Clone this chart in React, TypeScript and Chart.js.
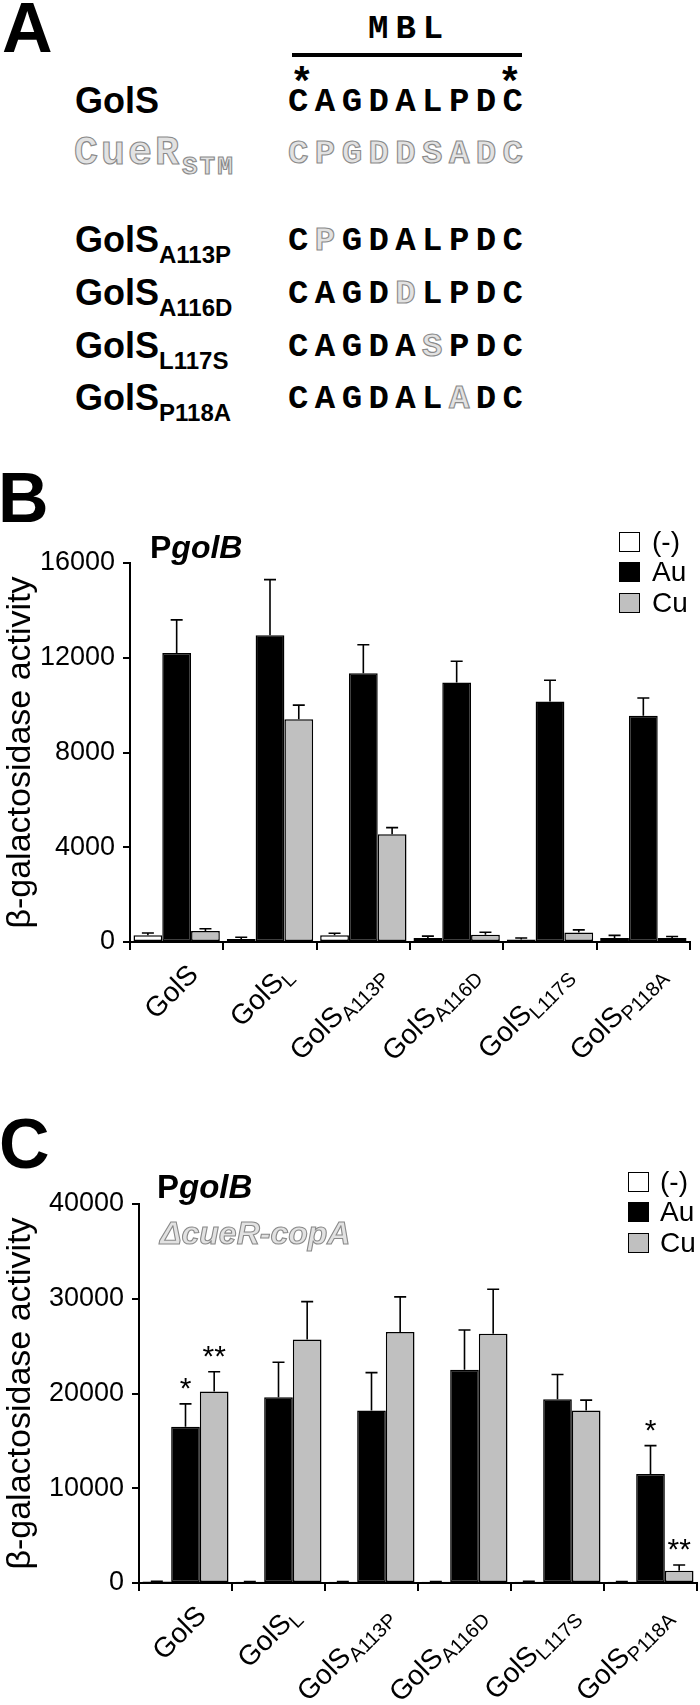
import React, { useEffect, useRef } from 'react';
import { Chart, registerables } from 'chart.js';

Chart.register(...registerables);

const SANS = "'Liberation Sans', Arial, Helvetica, sans-serif";
const MONO = "'Liberation Mono', 'Courier New', monospace";

// ---------- data ----------
const categoryMain = ['GolS', 'GolS', 'GolS', 'GolS', 'GolS', 'GolS'];
const categorySub = ['', 'L', 'A113P', 'A116D', 'L117S', 'P118A'];
const seriesNames = ['(-)', 'Au', 'Cu'];
const seriesColors = ['#ffffff', '#000000', '#c0c0c0'];

// Panel B (PgolB)
const bNone = [280, 130, 280, 170, 110, 170];
const bNoneErr = [100, 70, 90, 80, 60, 110];
const bAu = [12200, 12950, 11350, 10950, 10150, 9550];
const bAuErr = [1400, 2350, 1200, 900, 900, 750];
const bCu = [460, 9400, 4550, 310, 400, 170];
const bCuErr = [100, 600, 280, 100, 110, 60];
const bYMax = 16000;
const bYStep = 4000;

// Panel C (PgolB, ΔcueR-copA)
const cNone = [150, 120, 130, 120, 140, 120];
const cNoneErr = [40, 30, 30, 30, 40, 30];
const cAu = [16500, 19600, 18200, 22500, 19400, 11500];
const cAuErr = [2400, 3700, 4000, 4200, 2600, 3000];
const cCu = [20200, 25700, 26500, 26300, 18200, 1300];
const cCuErr = [2100, 4000, 3700, 4700, 1100, 600];
const cAuSig = ['*', '', '', '', '', '*'];
const cCuSig = ['**', '', '', '', '', '**'];
const cYMax = 40000;
const cYStep = 10000;

// Panel A alignments
const alignNames = [
  { main: 'GolS', sub: '' },
  { main: 'CueR', sub: 'STM' },
  { main: 'GolS', sub: 'A113P' },
  { main: 'GolS', sub: 'A116D' },
  { main: 'GolS', sub: 'L117S' },
  { main: 'GolS', sub: 'P118A' },
];
const alignSeqs = ['CAGDALPDC', 'CPGDDSADC', 'CPGDALPDC', 'CAGDDLPDC', 'CAGDASPDC', 'CAGDALADC'];
const alignMut = [-1, 99, 1, 4, 5, 6];

const yTitle = 'β-galactosidase activity';

// ---------- helpers ----------
const OUTLINE: React.CSSProperties = { color: '#e2e2e2', WebkitTextStroke: '1.1px #8a8a8a' } as any;

function Txt(props: any) {
  const { x, base, size, mono, weight = 700, italic, children, style } = props;
  const k = mono ? 0.7665 : 0.8465;
  return (
    <div
      style={{
        position: 'absolute',
        left: x,
        top: base - k * size,
        fontFamily: mono ? MONO : SANS,
        fontSize: size,
        lineHeight: 1,
        fontWeight: weight,
        fontStyle: italic ? 'italic' : 'normal',
        whiteSpace: 'nowrap',
        color: '#000',
        ...style,
      }}
    >
      {children}
    </div>
  );
}

function makeErrorPlugin() {
  return {
    id: 'errorBars',
    afterDatasetsDraw(chart: any) {
      const ctx = chart.ctx;
      const ys = chart.scales.y;
      chart.data.datasets.forEach((ds: any, i: number) => {
        const meta = chart.getDatasetMeta(i);
        meta.data.forEach((bar: any, j: number) => {
          const v = ds.data[j];
          const e = ds.errors ? ds.errors[j] : 0;
          const yTop = ys.getPixelForValue(v);
          const yE = ys.getPixelForValue(v + e);
          ctx.save();
          ctx.strokeStyle = '#000';
          ctx.lineWidth = 1.6;
          ctx.beginPath();
          ctx.moveTo(bar.x, yTop);
          ctx.lineTo(bar.x, yE);
          ctx.moveTo(bar.x - 6, yE);
          ctx.lineTo(bar.x + 6, yE);
          ctx.stroke();
          if (ds.sig && ds.sig[j]) {
            ctx.fillStyle = '#000';
            ctx.font = `30px ${SANS}`;
            ctx.textAlign = 'center';
            ctx.textBaseline = 'alphabetic';
            ctx.fillText(ds.sig[j], bar.x, yE - 6);
          }
          ctx.restore();
        });
      });
    },
  };
}

function makeXLabelPlugin(dx: number, dy: number) {
  return {
    id: 'xLabels',
    afterDraw(chart: any) {
      const ctx = chart.ctx;
      const xs = chart.scales.x;
      const bottom = chart.chartArea.bottom;
      categoryMain.forEach((main, i) => {
        const sub = categorySub[i];
        const cx = xs.getPixelForValue(i);
        ctx.save();
        ctx.translate(cx + dx, bottom + dy);
        ctx.rotate(-Math.PI / 4);
        ctx.fillStyle = '#000';
        ctx.textBaseline = 'alphabetic';
        ctx.textAlign = 'right';
        let ws = 0;
        if (sub) {
          ctx.font = `20px ${SANS}`;
          ws = ctx.measureText(sub).width;
          ctx.fillText(sub, 0, 20 + 6);
        }
        ctx.font = `28px ${SANS}`;
        ctx.fillText(main, -ws, 20);
        ctx.restore();
      });
    },
  };
}

function BarChart(props: any) {
  const { top, height, padTop, padRight, yW, xH, yMax, yStep, series, errors, sigs, labDx, labDy } = props;
  const ref = useRef<HTMLCanvasElement>(null);
  useEffect(() => {
    const labels = categoryMain.map((m, i) => m + categorySub[i]);
    const datasets = series.map((d: number[], k: number) => ({
      label: seriesNames[k],
      data: d,
      errors: errors[k],
      sig: sigs ? sigs[k] : null,
      backgroundColor: seriesColors[k],
      borderColor: '#000',
      borderWidth: 1.5,
      borderSkipped: false,
      categoryPercentage: 0.925,
      barPercentage: 1,
    }));
    const chart = new Chart(ref.current as HTMLCanvasElement, {
      type: 'bar',
      data: { labels, datasets },
      options: {
        responsive: false,
        animation: false,
        devicePixelRatio: 1,
        layout: { padding: { top: padTop, right: padRight, left: 0, bottom: 0 } },
        plugins: { legend: { display: false }, tooltip: { enabled: false } },
        scales: {
          x: {
            type: 'category',
            grid: { display: true, drawOnChartArea: false, drawTicks: true, tickLength: 8, color: '#000', lineWidth: 2, offset: true },
            border: { display: true, color: '#000', width: 2 },
            ticks: { display: false },
            afterFit: (s: any) => {
              s.height = xH;
            },
          },
          y: {
            min: 0,
            max: yMax,
            grid: { drawOnChartArea: false, drawTicks: true, tickLength: 7, color: '#000', lineWidth: 2 },
            border: { display: true, color: '#000', width: 2 },
            ticks: {
              stepSize: yStep,
              color: '#000',
              padding: 8,
              font: { family: SANS, size: 27 },
              callback: (v: any) => String(v),
            },
            title: {
              display: true,
              text: yTitle,
              color: '#000',
              font: { family: SANS, size: 34 },
              padding: { top: 0, bottom: 0 },
            },
            afterFit: (s: any) => {
              s.width = yW;
            },
          },
        },
      } as any,
      plugins: [makeErrorPlugin(), makeXLabelPlugin(labDx, labDy)],
    });
    return () => chart.destroy();
  }, []);
  return (
    <canvas
      ref={ref}
      width={700}
      height={height}
      style={{ position: 'absolute', left: 0, top, width: 700, height, display: 'block' }}
    />
  );
}

function Legend(props: any) {
  const { x, tx, tops } = props;
  return (
    <>
      {seriesNames.map((n, k) => (
        <React.Fragment key={n}>
          <div
            style={{
              position: 'absolute',
              left: x,
              top: tops[k],
              width: 21,
              height: 20,
              boxSizing: 'border-box',
              border: '1.5px solid #000',
              background: seriesColors[k],
            }}
          />
          <Txt x={tx} base={tops[k] + 20} size={28} weight={400}>
            {n}
          </Txt>
        </React.Fragment>
      ))}
    </>
  );
}

function PanelA() {
  const rowBase = [113, 165, 252, 305, 358, 410];
  return (
    <>
      <Txt x={2} base={52} size={70}>A</Txt>
      <Txt x={368} base={38} size={34} mono style={{ letterSpacing: 7 }}>MBL</Txt>
      <div style={{ position: 'absolute', left: 292, top: 53, width: 230, height: 4, background: '#000' }} />
      <Txt x={294} base={94} size={40}>*</Txt>
      <Txt x={502} base={94} size={40}>*</Txt>
      {alignNames.map((nm, i) => {
        const isCue = nm.main === 'CueR';
        return (
          <React.Fragment key={i}>
            {isCue ? (
              <Txt x={74} base={rowBase[i]} size={40} mono style={{ letterSpacing: 3, ...OUTLINE }}>
                {nm.main}
                <span style={{ fontSize: 26, letterSpacing: 2, position: 'relative', top: 10 }}>{nm.sub}</span>
              </Txt>
            ) : (
              <Txt x={75} base={rowBase[i]} size={36}>
                {nm.main}
                {nm.sub ? (
                  <span style={{ fontSize: 24, position: 'relative', top: 11 }}>{nm.sub}</span>
                ) : null}
              </Txt>
            )}
            <Txt x={288} base={rowBase[i] - 2} size={34} mono style={{ letterSpacing: 6.4 }}>
              {alignSeqs[i].split('').map((ch, j) => (
                <span key={j} style={alignMut[i] === 99 || alignMut[i] === j ? OUTLINE : undefined}>
                  {ch}
                </span>
              ))}
            </Txt>
          </React.Fragment>
        );
      })}
    </>
  );
}

export default function App() {
  return (
    <div
      style={{
        position: 'absolute',
        left: 0,
        top: 0,
        width: 700,
        height: 1705,
        background: '#fff',
        overflow: 'hidden',
      }}
    >
      <PanelA />

      {/* Panel B */}
      <Txt x={-2} base={522} size={70}>B</Txt>
      <BarChart
        top={470}
        height={620}
        padTop={93}
        padRight={10}
        yW={130}
        xH={148}
        yMax={bYMax}
        yStep={bYStep}
        series={[bNone, bAu, bCu]}
        errors={[bNoneErr, bAuErr, bCuErr]}
        sigs={null}
        labDx={9}
        labDy={20}
      />
      <Txt x={150} base={558} size={32}>
        P<i>golB</i>
      </Txt>
      <Legend x={619} tx={652} tops={[532, 562, 593]} />

      {/* Panel C */}
      <Txt x={-1} base={1168} size={70}>C</Txt>
      <BarChart
        top={1110}
        height={595}
        padTop={94}
        padRight={3}
        yW={139}
        xH={122}
        yMax={cYMax}
        yStep={cYStep}
        series={[cNone, cAu, cCu]}
        errors={[cNoneErr, cAuErr, cCuErr]}
        sigs={[null, cAuSig, cCuSig]}
        labDx={8}
        labDy={20}
      />
      <Txt x={157} base={1198} size={33}>
        P<i>golB</i>
      </Txt>
      <Txt x={160} base={1244} size={32} italic style={OUTLINE}>
        ΔcueR-copA
      </Txt>
      <Legend x={628} tx={660} tops={[1172, 1202, 1233]} />
    </div>
  );
}
